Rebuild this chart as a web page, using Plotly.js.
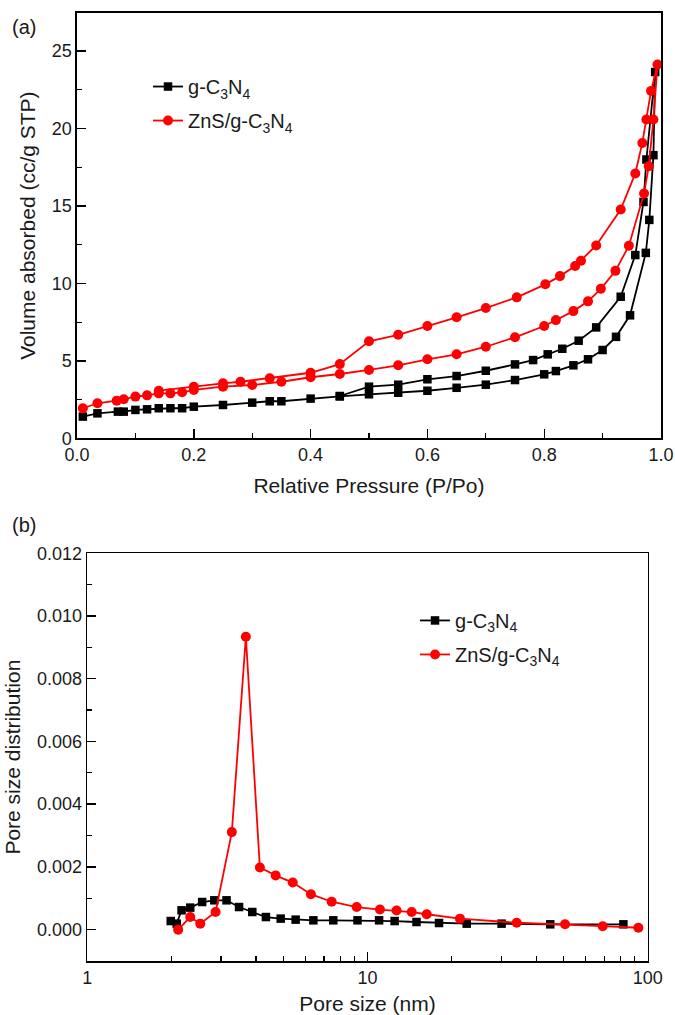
<!DOCTYPE html>
<html><head><meta charset="utf-8">
<script src="https://cdn.plot.ly/plotly-3.0.1.min.js"></script>
<style>html,body{margin:0;padding:0;background:#fff}#chart{width:675px;height:1015px}</style>
</head><body><div id="chart"></div>
<script>
// ---- names ----
const seriesNames = ['g-C<sub>3</sub>N<sub>4</sub>', 'ZnS/g-C<sub>3</sub>N<sub>4</sub>'];

// ---- (a) N2 isotherms: adsorption then desorption (loop) ----
const gcnP = [0.01,0.035,0.07,0.08,0.10,0.12,0.14,0.16,0.18,0.20,0.25,0.30,0.33,0.35,0.40,0.45,0.50,0.55,0.60,0.65,0.70,0.75,0.80,0.82,0.85,0.875,0.90,0.923,0.947,0.974,0.98,0.987,0.99,
              0.975,0.970,0.956,0.931,0.889,0.859,0.831,0.806,0.781,0.75,0.70,0.65,0.60,0.55,0.50,0.45];
const gcnV = [1.40,1.61,1.72,1.72,1.83,1.87,1.94,1.94,1.94,2.04,2.15,2.30,2.39,2.39,2.56,2.70,2.84,2.94,3.07,3.26,3.46,3.76,4.13,4.34,4.71,5.10,5.70,6.55,7.94,11.97,14.1,18.28,23.65,
              18.0,15.26,11.83,9.14,7.16,6.30,5.78,5.42,5.05,4.77,4.36,4.02,3.81,3.46,3.33,2.73];
const znsP = [0.01,0.035,0.068,0.08,0.10,0.12,0.14,0.16,0.18,0.20,0.25,0.30,0.35,0.40,0.45,0.50,0.55,0.60,0.65,0.70,0.75,0.80,0.82,0.85,0.875,0.897,0.922,0.945,0.971,0.979,0.987,0.994,
              0.983,0.975,0.968,0.956,0.931,0.889,0.863,0.853,0.827,0.802,0.753,0.70,0.65,0.60,0.55,0.50,0.45,0.40,0.33,0.28,0.25,0.20,0.14];
const znsV = [1.94,2.26,2.43,2.52,2.69,2.77,2.90,2.90,2.97,3.12,3.33,3.44,3.65,3.94,4.15,4.41,4.71,5.10,5.42,5.91,6.52,7.25,7.63,8.21,8.84,9.65,10.81,12.43,15.81,17.57,20.58,24.13,
              22.43,20.58,19.07,17.10,14.77,12.45,11.46,11.12,10.47,9.94,9.10,8.41,7.81,7.25,6.68,6.26,4.79,4.23,3.87,3.65,3.55,3.33,3.07];

// ---- (b) pore size distribution ----
const gcnD = [1.985,2.085,2.17,2.33,2.57,2.84,3.14,3.48,3.88,4.34,4.90,5.54,6.41,7.55,9.21,11.0,12.5,14.96,18.0,22.6,30.1,44.9,81.9];
const gcnPSD = [0.000274,0.000191,0.000616,0.000702,0.000881,0.000935,0.000935,0.000721,0.000562,0.000402,0.000351,0.000319,0.000297,0.000297,0.000297,0.000297,0.000274,0.000243,0.000211,0.000191,0.000191,0.000169,0.000169];
const znsD = [2.11,2.33,2.53,2.87,3.28,3.68,4.13,4.70,5.41,6.28,7.45,9.15,11.08,12.7,14.38,16.27,21.38,34.08,50.7,69.1,92.6];
const znsPSD = [0.0,0.000402,0.000191,0.000562,0.00311,0.00934,0.00198,0.00173,0.00150,0.00113,0.00089,0.00072,0.00064,0.00061,0.00056,0.00049,0.00035,0.00022,0.00017,0.00011,0.00006];

// ---- ticks ----
const xTicksA = [0,0.2,0.4,0.6,0.8,1.0];
const yTicksA = [0,5,10,15,20,25];
const xTicksB = [1,10,100];
const xMinorB = [2,3,4,5,6,7,8,9,20,30,40,50,60,70,80,90];
const yTicksB = [0,0.002,0.004,0.006,0.008,0.010,0.012];

const BLACK = '#000000', RED = '#ff0000';
const FONT = 'Liberation Sans, Arial, sans-serif';
const TXT = '#1a1a1a';

function tr(x, y, name, color, symbol, size, xa, ya, leg, grp) {
  return {x, y, name, type:'scatter', mode:'lines+markers', xaxis:xa, yaxis:ya, legend:leg, legendgroup:grp,
    line:{color, width:1.8}, marker:{color, symbol, size, line:{width:0}}, cliponaxis:false};
}
const data = [
  tr(gcnP, gcnV, seriesNames[0], BLACK, 'square', 8.5, 'x', 'y', 'legend', 'a1'),
  tr(znsP, znsV, seriesNames[1], RED, 'circle', 10, 'x', 'y', 'legend', 'a2'),
  tr(gcnD, gcnPSD, seriesNames[0], BLACK, 'square', 8.5, 'x2', 'y2', 'legend2', 'b1'),
  tr(znsD, znsPSD, seriesNames[1], RED, 'circle', 10, 'x2', 'y2', 'legend2', 'b2'),
];

const minorBase = {ticks:'inside', ticklen:5, tickwidth:1.2, tickcolor:'#000'};
const axBase = {showgrid:false, zeroline:false, showline:true, linecolor:'#000', linewidth:1.6, mirror:true,
  ticks:'inside', ticklen:9, tickwidth:1.4, tickcolor:'#000', tickfont:{family:FONT, size:18, color:TXT}, automargin:false};

const layout = {
  width:675, height:1015, paper_bgcolor:'#fff', plot_bgcolor:'#fff',
  margin:{l:77, r:14, t:13, b:54}, showlegend:true,
  font:{family:FONT, color:TXT},
  xaxis: Object.assign({}, axBase, {domain:[0,1], anchor:'y', range:[0,1], tickmode:'array', tickvals:xTicksA, tickformat:'.1f',
    minor:Object.assign({dtick:0.1, tick0:0}, minorBase),
    title:{text:'Relative Pressure (P/Po)', font:{family:FONT, size:21, color:TXT}, standoff:14}}),
  yaxis: Object.assign({}, axBase, {domain:[0.5514,1], anchor:'x', range:[0,27.46], tickmode:'array', tickvals:yTicksA,
    minor:Object.assign({dtick:2.5, tick0:0}, minorBase),
    title:{text:'Volume absorbed (cc/g STP)', font:{family:FONT, size:21, color:TXT}, standoff:10}}),
  xaxis2: Object.assign({}, axBase, {domain:[0.01764,0.9772], anchor:'y2', type:'log', range:[0,2], tickmode:'array', tickvals:xTicksB, ticktext:xTicksB.map(String),
    minor:Object.assign({tickmode:'array', tickvals:xMinorB}, minorBase),
    title:{text:'Pore size (nm)', font:{family:FONT, size:21, color:TXT}, standoff:14}}),
  yaxis2: Object.assign({}, axBase, {domain:[0,0.4301], anchor:'x2', range:[-0.001,0.012], tickmode:'array', tickvals:yTicksB, tickformat:'.3f',
    minor:Object.assign({dtick:0.001, tick0:0}, minorBase),
    title:{text:'Pore size distribution', font:{family:FONT, size:21, color:TXT}, standoff:10}}),
  legend:{x:0.1216, y:0.943, xanchor:'left', yanchor:'top', bgcolor:'rgba(0,0,0,0)', borderwidth:0,
    font:{family:FONT, size:20, color:TXT}, tracegroupgap:5},
  legend2:{x:0.5788, y:0.3798, xanchor:'left', yanchor:'top', bgcolor:'rgba(0,0,0,0)', borderwidth:0,
    font:{family:FONT, size:20, color:TXT}, tracegroupgap:5},
  annotations:[
    {text:'(a)', xref:'paper', yref:'paper', x:-0.1147, y:0.985, xanchor:'left', yanchor:'middle', showarrow:false, font:{family:FONT, size:20, color:TXT}},
    {text:'(b)', xref:'paper', yref:'paper', x:-0.1147, y:0.460, xanchor:'left', yanchor:'middle', showarrow:false, font:{family:FONT, size:20, color:TXT}},
  ],
};
Plotly.newPlot('chart', data, layout, {displayModeBar:false, staticPlot:true});
</script></body></html>
